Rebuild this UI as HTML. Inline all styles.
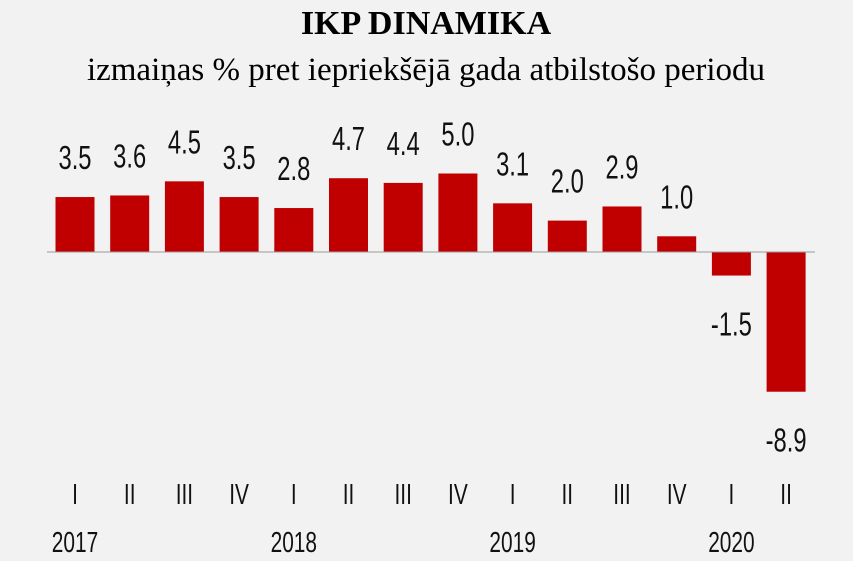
<!DOCTYPE html>
<html><head><meta charset="utf-8"><style>
body{margin:0;background:#f2f2f2;}
svg{display:block;}
.t{font-family:"Liberation Serif",serif;fill:#000;}
.n{font-family:"Liberation Sans",sans-serif;fill:#111;}
</style></head><body>
<svg id="c" width="853" height="561" viewBox="0 0 853 561">
<rect width="853" height="561" fill="#f2f2f2"/>
<text class="t" x="426" y="34" text-anchor="middle" font-size="34" font-weight="bold">IKP DINAMIKA</text>
<text class="t" x="426" y="80" text-anchor="middle" font-size="33">izmaiņas % pret iepriekšējā gada atbilstošo periodu</text>
<g id="bars"></g>
<line x1="47" x2="815" y1="252" y2="252" stroke="#999" stroke-width="1"/>
<g id="labels"></g>
</svg>
<script>
const quarters=["I","II","III","IV","I","II","III","IV","I","II","III","IV","I","II"];
const values=[3.5,3.6,4.5,3.5,2.8,4.7,4.4,5.0,3.1,2.0,2.9,1.0,-1.5,-8.9];
const years=["2017","2018","2019","2020"];
const yearStart=[0,4,8,12];
const ns="http://www.w3.org/2000/svg";
const x0=75,step=54.7,bw=39,zeroY=252,ppu=15.7;
const xs=i=>x0+i*step;
const ys=v=>zeroY-v*ppu;
const bars=document.getElementById('bars'),labels=document.getElementById('labels');
function txt(x,y,s,size,parent){const t=document.createElementNS(ns,'text');t.setAttribute('x',0);t.setAttribute('y',0);
t.setAttribute('transform',`translate(${x},${y}) scale(0.72,1)`);t.setAttribute('text-anchor','middle');t.setAttribute('class','n');t.setAttribute('font-size',size);t.textContent=s;parent.appendChild(t);return t;}
values.forEach((v,i)=>{
 const r=document.createElementNS(ns,'rect');
 const y=Math.min(ys(v),zeroY),h=Math.abs(ys(v)-zeroY);
 r.setAttribute('x',xs(i)-bw/2);r.setAttribute('y',y);r.setAttribute('width',bw);r.setAttribute('height',h);r.setAttribute('fill','#c00000');
 
 
 bars.appendChild(r);
 const ly=v>=0?ys(v)-28:ys(v)+60;
 const l=txt(xs(i),ly,v.toFixed(1),33,labels);
 
 
 const q=txt(xs(i),504,quarters[i],29,labels);
 
 
});
years.forEach((y,k)=>{
 const t=txt(xs(yearStart[k]),552,y,29,labels);
 
 
});
</script>
</body></html>
